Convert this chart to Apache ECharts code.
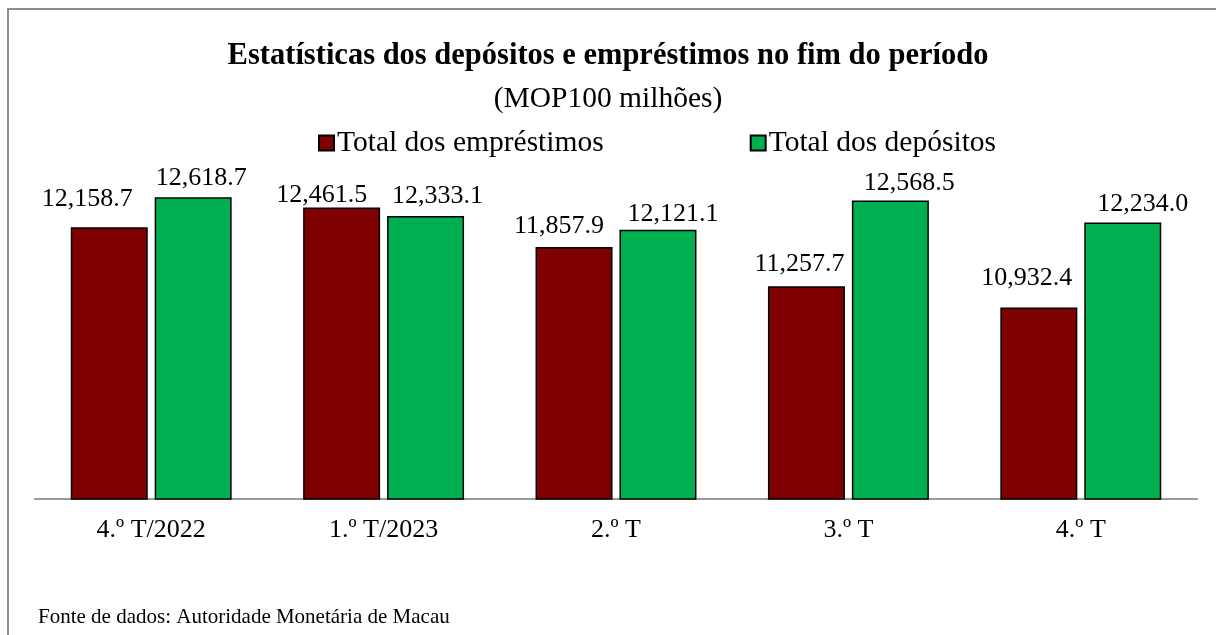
<!DOCTYPE html>
<html>
<head>
<meta charset="utf-8">
<script src="https://cdn.jsdelivr.net/npm/echarts@6/dist/echarts.min.js"></script>
<style>
  html, body { margin: 0; padding: 0; background: #fff; }
  #chart { width: 1216px; height: 635px; }
</style>
</head>
<body>
<div id="chart"></div>
<script>
  var periods = ['4.º T/2022', '1.º T/2023', '2.º T', '3.º T', '4.º T'];
  var loans = [12158.7, 12461.5, 11857.9, 11257.7, 10932.4];
  var deposits = [12618.7, 12333.1, 12121.1, 12568.5, 12234.0];

  // label nudges, like Excel moving labels apart
  var loanNudge = [[-22, -10], [-20, 6], [-15, -3], [-7, -4], [-12, -11]];
  var depositNudge = [[8, -1], [12, -2], [15, 2], [19, 1], [20, 0]];

  var serif = '"Liberation Serif", "Times New Roman", serif';

  function fmt(v) {
    return v.toLocaleString('en-US', {minimumFractionDigits: 1, maximumFractionDigits: 1});
  }

  function withNudge(values, nudge) {
    return values.map(function (v, i) {
      return {value: v, label: {offset: nudge[i]}};
    });
  }

  var chart = echarts.init(document.getElementById('chart'));
  chart.setOption({
    animation: false,
    backgroundColor: '#fff',
    graphic: [{
      type: 'rect',
      shape: {x: 8, y: 9, width: 1400, height: 800},
      style: {fill: 'none', stroke: '#8c8c8c', lineWidth: 2},
      silent: true
    }],
    title: [{
      text: 'Estatísticas dos depósitos e empréstimos no fim do período',
      left: 'center',
      top: 36,
      textStyle: {fontFamily: serif, fontSize: 30.5, fontWeight: 'bold', color: '#000'}
    }, {
      text: '(MOP100 milhões)',
      left: 'center',
      top: 79,
      textStyle: {fontFamily: serif, fontSize: 29.5, fontWeight: 'normal', color: '#000'}
    }, {
      text: 'Fonte de dados: Autoridade Monetária de Macau',
      left: 33,
      top: 602,
      textStyle: {fontFamily: serif, fontSize: 21, fontWeight: 'normal', color: '#000'}
    }],
    legend: {
      left: 313,
      top: 123,
      itemWidth: 15,
      itemHeight: 15,
      itemGap: 146,
      icon: 'rect',
      textStyle: {fontFamily: serif, fontSize: 29.5, color: '#000', padding: [0, 0, 0, -2]},
      data: ['Total dos empréstimos', 'Total dos depósitos']
    },
    grid: {left: 35, right: 19, top: 107, bottom: 136},
    xAxis: {
      type: 'category',
      data: periods,
      axisLine: {lineStyle: {color: '#9a9a9a', width: 2}},
      axisTick: {show: false},
      axisLabel: {fontFamily: serif, fontSize: 26, color: '#000', margin: 18}
    },
    yAxis: {
      type: 'value',
      min: 8000,
      max: 14000,
      show: false,
      splitLine: {show: false}
    },
    series: [{
      name: 'Total dos empréstimos',
      type: 'bar',
      barWidth: 77,
      barGap: '9%',
      data: withNudge(loans, loanNudge),
      itemStyle: {color: '#7f0000', borderColor: '#000', borderWidth: 1.5},
      label: {
        show: true, position: 'top', distance: 5,
        fontFamily: serif, fontSize: 26, color: '#000',
        formatter: function (p) { return fmt(p.value); }
      }
    }, {
      name: 'Total dos depósitos',
      type: 'bar',
      barWidth: 77,
      data: withNudge(deposits, depositNudge),
      itemStyle: {color: '#00b050', borderColor: '#000', borderWidth: 1.5},
      label: {
        show: true, position: 'top', distance: 5,
        fontFamily: serif, fontSize: 26, color: '#000',
        formatter: function (p) { return fmt(p.value); }
      }
    }]
  });
</script>
</body>
</html>
